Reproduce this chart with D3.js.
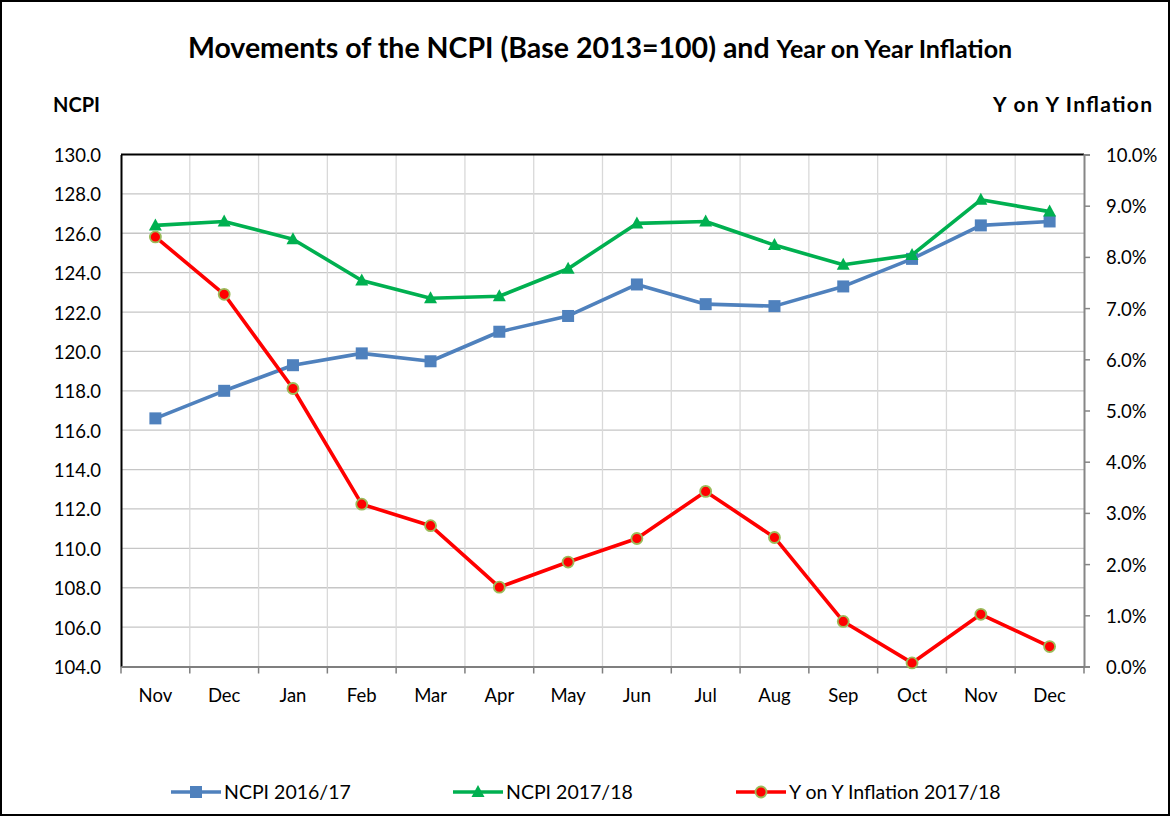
<!DOCTYPE html>
<html>
<head>
<meta charset="utf-8">
<script src="https://cdn.jsdelivr.net/npm/d3@7"></script>
<style>
  html, body { margin: 0; padding: 0; background: #fff; }
  svg { display: block; font-family: Lato, "Open Sans", sans-serif; }
</style>
</head>
<body>
<svg id="chart" width="1171" height="817"></svg>
<script>
"use strict";

// data
const months = ["Nov", "Dec", "Jan", "Feb", "Mar", "Apr", "May", "Jun", "Jul", "Aug", "Sep", "Oct", "Nov", "Dec"];
const ncpi1617 = [116.6, 118.0, 119.3, 119.9, 119.5, 121.0, 121.8, 123.4, 122.4, 122.3, 123.3, 124.7, 126.4, 126.6];
const ncpi1718 = [126.4, 126.6, 125.7, 123.6, 122.7, 122.8, 124.2, 126.5, 126.6, 125.4, 124.4, 124.9, 127.7, 127.1];
const yoyInfl = [0.0839, 0.0727, 0.0543, 0.0317, 0.0275, 0.0155, 0.0204, 0.0250, 0.0342, 0.0252, 0.0088, 0.0007, 0.0102, 0.0039];
const leftTicks = d3.range(104, 130.01, 2);
const rightTicks = d3.range(0, 0.1001, 0.01);

const svg = d3.select("#chart");
const W = 1171, H = 817;
const plot = { l: 121, r: 1084, t: 154.5, b: 666.5 };
const FONT = "Lato, 'Open Sans', sans-serif";

svg.append("rect").attr("x", 1).attr("y", 1).attr("width", W - 3).attr("height", H - 3)
  .attr("fill", "#fff").attr("stroke", "#000").attr("stroke-width", 2);

const x = d3.scaleBand().domain(d3.range(months.length)).range([plot.l, plot.r]).padding(0);
const cx = i => x(i) + x.bandwidth() / 2;
const y = d3.scaleLinear().domain([104, 130]).range([plot.b, plot.t]);
const yR = d3.scaleLinear().domain([0, 0.10]).range([plot.b, plot.t]);

// grid
const grid = svg.append("g");
grid.selectAll(".hg").data(leftTicks.slice(1, -1)).join("line")
  .attr("x1", plot.l).attr("x2", plot.r)
  .attr("y1", d => y(d)).attr("y2", d => y(d))
  .attr("stroke", "#c6c6c6").attr("stroke-width", 1.3);
grid.selectAll(".vg").data(d3.range(1, months.length)).join("line")
  .attr("x1", d => x(d)).attr("x2", d => x(d))
  .attr("y1", plot.t).attr("y2", plot.b)
  .attr("stroke", "#d9d9d9").attr("stroke-width", 1.3);

// plot frame top
svg.append("line").attr("x1", plot.l).attr("x2", plot.r).attr("y1", plot.t).attr("y2", plot.t)
  .attr("stroke", "#000").attr("stroke-width", 2);

// left axis
const gL = svg.append("g").attr("transform", `translate(${plot.l},0)`)
  .call(d3.axisLeft(y).tickValues(leftTicks).tickFormat(d3.format(".1f")).tickSize(0).tickPadding(20))
  .attr("font-family", FONT).attr("font-size", 18.5);
gL.select(".domain").attr("stroke", "#000").attr("stroke-width", 2);
gL.selectAll("text").attr("fill", "#000").attr("dy", "0.38em");

// right axis
const gR = svg.append("g").attr("transform", `translate(${plot.r},0)`)
  .call(d3.axisRight(yR).tickValues(rightTicks).tickFormat(d3.format(".1%")).tickSizeOuter(0).tickSize(6).tickPadding(16))
  .attr("font-family", FONT).attr("font-size", 18.5);
gR.select(".domain").attr("stroke", "#868686").attr("stroke-width", 2);
gR.selectAll(".tick line").attr("stroke", "#868686").attr("stroke-width", 1.5);
gR.selectAll("text").attr("fill", "#000").attr("dy", "0.38em");

// bottom axis
const gB = svg.append("g").attr("transform", `translate(0,${plot.b})`)
  .call(d3.axisBottom(x).tickFormat(i => months[i]).tickSize(0).tickPadding(22))
  .attr("font-family", FONT).attr("font-size", 18.5);
gB.select(".domain").attr("stroke", "#7f7f7f").attr("stroke-width", 2);
gB.selectAll("text").attr("fill", "#000");
gB.selectAll(".btick").data(d3.range(0, months.length + 1)).join("line")
  .attr("x1", d => d === months.length ? plot.r : x(d)).attr("x2", d => d === months.length ? plot.r : x(d))
  .attr("y1", 0).attr("y2", 7).attr("stroke", "#7f7f7f").attr("stroke-width", 1.5);

// series
const series = [
  { name: "NCPI 2016/17", vals: ncpi1617, sc: y, color: "#4f81bd", marker: "square" },
  { name: "NCPI 2017/18", vals: ncpi1718, sc: y, color: "#00b050", marker: "triangle" },
  { name: "Y on Y Inflation 2017/18", vals: yoyInfl, sc: yR, color: "#ff0000", marker: "circle" }
];

function drawMarker(g, type, color, px, py) {
  if (type === "square") {
    g.append("rect").attr("x", px - 6).attr("y", py - 6).attr("width", 12).attr("height", 12).attr("fill", color);
  } else if (type === "triangle") {
    g.append("path").attr("d", `M${px},${py - 7}L${px + 6.5},${py + 5}L${px - 6.5},${py + 5}Z`).attr("fill", color);
  } else {
    g.append("circle").attr("cx", px).attr("cy", py).attr("r", 5.5)
      .attr("fill", "#ff0000").attr("stroke", "#9bbb59").attr("stroke-width", 1.8);
  }
}

series.forEach(s => {
  const line = d3.line().x((d, i) => cx(i)).y(d => s.sc(d));
  const g = svg.append("g");
  g.append("path").attr("d", line(s.vals)).attr("fill", "none")
    .attr("stroke", s.color).attr("stroke-width", 3.6).attr("stroke-linejoin", "round");
  s.vals.forEach((v, i) => drawMarker(g, s.marker, s.color, cx(i), s.sc(v)));
});

// titles
const title = svg.append("text").attr("x", 600).attr("y", 58).attr("text-anchor", "middle")
  .attr("font-weight", "bold").attr("fill", "#000");
title.append("tspan").attr("font-size", 28.5).text("Movements of the NCPI (Base 2013=100) and ");
title.append("tspan").attr("font-size", 25).text("Year on Year Inflation");

svg.append("text").attr("x", 53).attr("y", 112).attr("font-size", 20).attr("font-weight", "bold").text("NCPI");
svg.append("text").attr("x", 1152).attr("y", 112).attr("font-size", 21).attr("font-weight", "bold")
  .attr("text-anchor", "end").attr("textLength", 159).attr("lengthAdjust", "spacing").text("Y on Y Inflation");

// legend
const legX = [171, 453, 736];
const legY = 792;
series.forEach((s, k) => {
  const g = svg.append("g");
  g.append("line").attr("x1", legX[k]).attr("x2", legX[k] + 50).attr("y1", legY).attr("y2", legY)
    .attr("stroke", s.color).attr("stroke-width", 3.6);
  drawMarker(g, s.marker, s.color, legX[k] + 25, legY);
  g.append("text").attr("x", legX[k] + 53).attr("y", legY + 7).attr("font-size", 19.5).text(s.name);
});
</script>
</body>
</html>
